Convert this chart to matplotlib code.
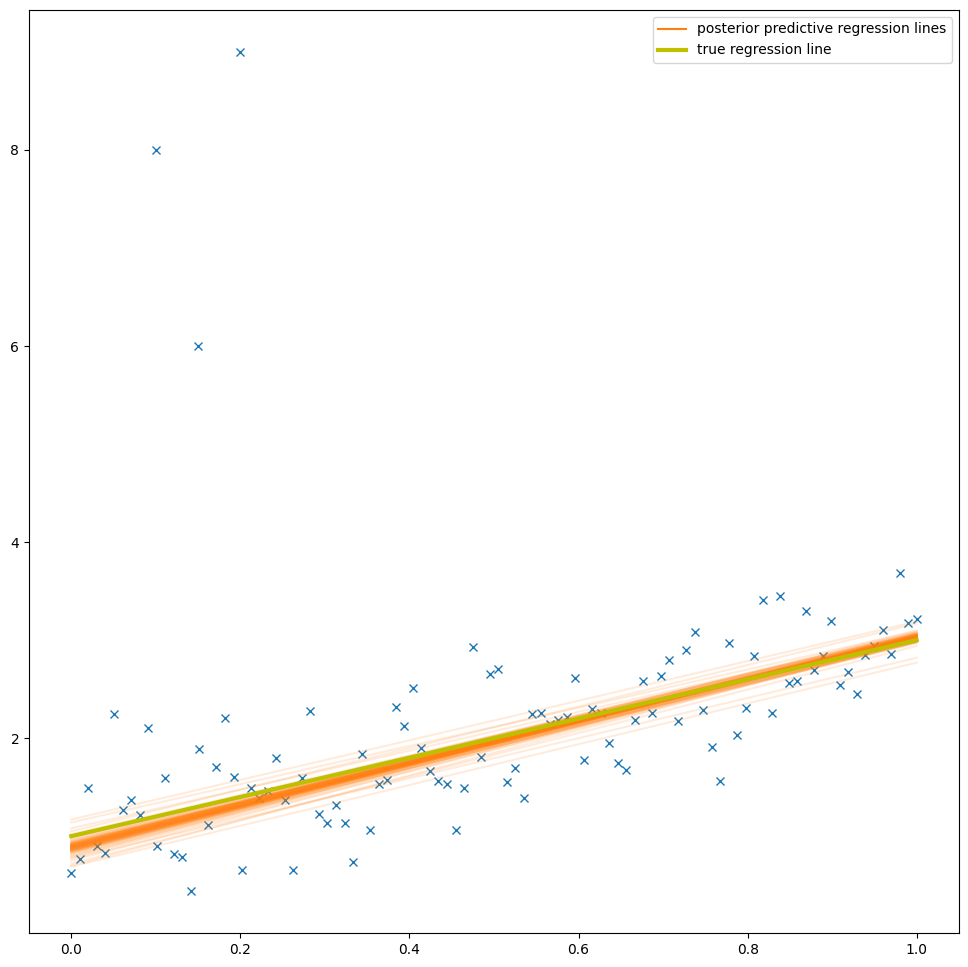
import numpy as np
import matplotlib
matplotlib.use("Agg")
import matplotlib.pyplot as plt
from matplotlib.lines import Line2D

# observed data: 100 evenly spaced points plus three outliers
x_obs = np.linspace(0, 1, 100)
y_obs = [
    0.62, 0.77, 1.49, 0.90, 0.83, 2.25, 1.27, 1.37, 1.22, 2.10,
    0.90, 1.59, 0.82, 0.79, 0.44, 1.89, 1.11, 1.71, 2.21, 1.60,
    0.65, 1.49, 1.39, 1.46, 1.80, 1.37, 0.65, 1.59, 2.28, 1.23,
    1.13, 1.32, 1.13, 0.74, 1.84, 1.06, 1.53, 1.57, 2.32, 2.12,
    2.51, 1.90, 1.66, 1.56, 1.53, 1.06, 1.49, 2.93, 1.81, 2.65,
    2.71, 1.55, 1.70, 1.39, 2.25, 2.26, 2.14, 2.18, 2.22, 2.61,
    1.78, 2.30, 2.26, 1.95, 1.75, 1.67, 2.18, 2.58, 2.26, 2.63,
    2.80, 2.17, 2.90, 3.08, 2.29, 1.91, 1.56, 2.97, 2.03, 2.31,
    2.84, 3.41, 2.26, 3.45, 2.56, 2.58, 3.30, 2.69, 2.84, 3.19,
    2.54, 2.67, 2.45, 2.85, 2.94, 3.10, 2.86, 3.68, 3.17, 3.22,
]
x_out = [0.1, 0.15, 0.2]
y_out = [8.0, 6.0, 9.0]

# posterior samples (intercept, slope)
post_intercept = [
    0.89, 0.92, 0.85, 0.95, 0.82, 0.88, 0.91, 0.87, 0.97, 0.80,
    0.90, 0.86, 0.93, 0.84, 0.99, 0.78, 0.89, 0.94, 0.83, 0.88,
    1.02, 0.75, 0.91, 0.86, 0.96, 0.81, 0.90, 0.87, 1.08, 0.72,
    0.93, 0.85, 0.89, 0.98, 0.79, 0.92, 0.86, 1.14, 0.70, 0.88,
    0.95, 0.83, 0.90, 0.87, 1.05, 0.77, 0.91, 0.84, 1.17, 0.69,
    0.88, 0.90, 0.86, 0.92, 0.89, 0.87, 0.91, 0.85, 0.93, 0.89,
    0.88, 0.90, 0.86, 0.92, 0.87, 0.91, 0.89, 0.84, 0.94, 0.88,
    0.90, 0.87, 0.91, 0.86, 0.89, 0.93, 0.85, 0.90, 0.88, 0.92,
]
post_slope = [
    2.16, 2.15, 2.12, 2.13, 2.18, 2.10, 2.19, 2.17, 2.05, 2.25,
    2.09, 2.20, 2.14, 2.14, 2.08, 2.20, 2.12, 2.05, 2.22, 2.15,
    2.00, 2.28, 2.13, 2.16, 2.12, 2.17, 2.16, 2.11, 1.98, 2.22,
    2.10, 2.18, 2.14, 2.08, 2.24, 2.12, 2.19, 1.95, 2.30, 2.13,
    2.10, 2.16, 2.13, 2.16, 2.12, 2.05, 2.14, 2.19, 2.02, 2.08,
    2.15, 2.13, 2.18, 2.11, 2.14, 2.16, 2.12, 2.19, 2.10, 2.17,
    2.13, 2.15, 2.16, 2.13, 2.18, 2.11, 2.15, 2.20, 2.09, 2.14,
    2.12, 2.17, 2.15, 2.14, 2.13, 2.12, 2.17, 2.14, 2.16, 2.10,
]

true_intercept = 1.0
true_slope = 2.0

x_all = np.concatenate([x_obs, x_out])
y_all = np.concatenate([y_obs, y_out])

fig = plt.figure(figsize=(9.68, 9.67), dpi=100)
ax = fig.add_axes([29 / 968, 34 / 967, 930 / 968, 923 / 967])

ax.plot(x_all, y_all, "x", color="C0")

for a, b in zip(post_intercept, post_slope):
    ax.plot(x_obs, a + b * x_obs, color="C1", alpha=0.15, lw=1.5)

ax.plot(x_obs, true_intercept + true_slope * x_obs, color="y", lw=3)

handles = [
    Line2D([], [], color="C1", lw=1.5),
    Line2D([], [], color="y", lw=3),
]
ax.legend(handles, ["posterior predictive regression lines", "true regression line"],
          loc="upper right")

fig.savefig("out.png", dpi=100)
